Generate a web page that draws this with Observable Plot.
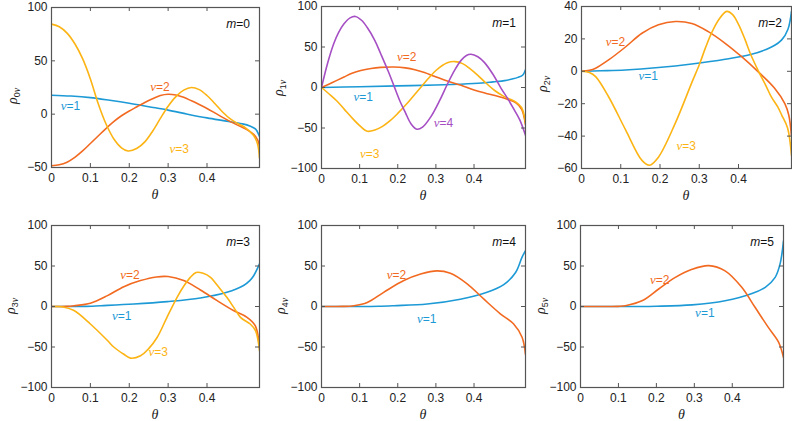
<!DOCTYPE html>
<html>
<head>
<meta charset="utf-8">
<script src="https://cdn.jsdelivr.net/npm/d3@7"></script>
<script src="https://cdn.jsdelivr.net/npm/@observablehq/plot@0.6"></script>
<style>
html,body{margin:0;padding:0;background:#fff;}
#chart{position:relative;width:792px;height:421px;overflow:hidden;background:#fff;}
#chart svg{position:absolute;left:0;top:0;background:transparent !important;overflow:visible;}
</style>
</head>
<body>
<div id="chart"></div>
<script>
// ---- data (θ, ρ) ----
const THETA_MAX = 0.535;
const xTicks = [0, 0.1, 0.2, 0.3, 0.4];

const m0_nu1 = [[0,17.8],[0.05,17],[0.1,15.5],[0.15,13],[0.2,10.2],[0.25,7],[0.3,3.8],[0.35,0],[0.4,-3.5],[0.45,-6.5],[0.49,-9],[0.51,-11],[0.525,-14],[0.535,-21]];
const m0_nu2 = [[0,-48.4],[0.02,-47.5],[0.04,-45],[0.06,-40.5],[0.08,-34.5],[0.1,-27.5],[0.12,-20.5],[0.14,-13.5],[0.16,-7],[0.18,-1.5],[0.2,3],[0.22,7],[0.24,11],[0.26,14.5],[0.28,17.5],[0.3,18.7],[0.32,18],[0.34,15.8],[0.36,12.5],[0.38,9],[0.4,5.3],[0.42,1.2],[0.44,-3],[0.46,-7],[0.48,-10.5],[0.5,-14],[0.52,-19],[0.53,-24],[0.535,-30]];
const m0_nu3 = [[0,84.4],[0.02,82],[0.04,76],[0.06,66],[0.08,52],[0.1,33],[0.12,10],[0.14,-9],[0.16,-23],[0.18,-31.5],[0.197,-34.5],[0.22,-32],[0.24,-26],[0.26,-16],[0.28,-4],[0.3,7.5],[0.32,16.5],[0.34,22.5],[0.36,25],[0.38,23],[0.4,17.5],[0.42,10],[0.44,2],[0.46,-4.5],[0.48,-9],[0.5,-13],[0.52,-20],[0.53,-28],[0.535,-41]];
const m0_labels = [[1,0.05,7.5],[2,0.28,25],[3,0.33,-33]];

const m1_nu1 = [[0,0],[0.1,1],[0.2,2],[0.3,3],[0.36,4],[0.42,5.5],[0.45,7],[0.48,8.5],[0.5,10.5],[0.515,12.5],[0.528,15.5],[0.535,22]];
const m1_nu2 = [[0,0],[0.03,6.5],[0.059,13],[0.08,17.5],[0.103,21],[0.13,23.5],[0.155,24.8],[0.19,25.3],[0.22,24.2],[0.245,22],[0.27,18.5],[0.296,13.8],[0.33,8],[0.366,2.7],[0.4,-3],[0.43,-7],[0.455,-10],[0.49,-15],[0.51,-19],[0.525,-27],[0.535,-46]];
const m1_nu3 = [[0,0],[0.02,-8],[0.041,-17],[0.06,-27],[0.085,-40],[0.1,-47],[0.12,-54],[0.14,-52.5],[0.16,-48],[0.18,-41],[0.2,-32],[0.22,-22],[0.24,-11],[0.26,0],[0.28,11],[0.3,21],[0.33,30.5],[0.35,32],[0.37,29.5],[0.39,23],[0.41,15],[0.43,6],[0.455,-4],[0.475,-10],[0.49,-13.5],[0.51,-18],[0.525,-25],[0.535,-44]];
const m1_nu4 = [[0,0],[0.016,30],[0.032,54],[0.045,68],[0.059,78.6],[0.075,86],[0.089,87.7],[0.105,83],[0.12,74],[0.14,58],[0.155,42],[0.175,20],[0.19,2],[0.205,-16],[0.22,-31],[0.235,-45],[0.25,-51.5],[0.265,-49],[0.287,-36],[0.31,-16],[0.33,4],[0.35,22],[0.366,33.5],[0.38,39.5],[0.392,41],[0.41,38],[0.427,31],[0.45,16],[0.471,-1],[0.49,-15],[0.506,-28],[0.52,-40],[0.535,-59]];
const m1_labels = [[2,0.225,37.6],[1,0.111,-11.7],[3,0.128,-82],[4,0.321,-43.7]];

const m2_nu1 = [[0,0],[0.05,0.3],[0.112,0.8],[0.196,2.3],[0.281,4.5],[0.366,7.4],[0.433,10.5],[0.484,15],[0.51,19.4],[0.526,26],[0.535,37]];
const m2_nu2 = [[0,0],[0.02,0.6],[0.036,1.9],[0.069,7],[0.112,15],[0.154,23.5],[0.196,28.7],[0.239,30.7],[0.281,29.5],[0.323,24.5],[0.366,17.3],[0.408,9],[0.451,-0.5],[0.492,-10.5],[0.518,-20],[0.528,-27],[0.535,-40]];
const m2_nu3 = [[0,0],[0.02,-0.8],[0.036,-3.3],[0.069,-15.7],[0.112,-36],[0.154,-55],[0.173,-58],[0.196,-53],[0.239,-32],[0.281,-7],[0.3,4],[0.315,14],[0.33,23],[0.35,32],[0.37,37],[0.385,35],[0.4,29],[0.416,20],[0.43,11],[0.451,0],[0.47,-9],[0.484,-16],[0.5,-22],[0.51,-27],[0.525,-35],[0.535,-52]];
const m2_labels = [[2,0.088,17.7],[1,0.171,-2.9],[3,0.268,-46]];

const m3_nu1 = [[0,0],[0.05,0],[0.084,0.1],[0.127,1],[0.212,3],[0.298,6],[0.383,10.5],[0.451,17.5],[0.494,26],[0.51,32],[0.52,38],[0.535,52.6]];
const m3_nu2 = [[0,0],[0.02,0],[0.04,0.2],[0.058,1],[0.1,4],[0.144,13.4],[0.186,24.5],[0.229,32],[0.27,36.5],[0.3,37],[0.34,32],[0.383,20.4],[0.426,7.2],[0.468,-5],[0.503,-13.4],[0.524,-23.7],[0.535,-50]];
const m3_nu3 = [[0,0],[0.015,0],[0.03,-0.6],[0.058,-5],[0.1,-21.6],[0.144,-42],[0.16,-50],[0.186,-59],[0.203,-63.7],[0.229,-60.8],[0.25,-52],[0.272,-38],[0.297,-13.4],[0.323,11.3],[0.34,25],[0.357,36],[0.372,42],[0.39,41],[0.409,36],[0.43,24],[0.451,11.3],[0.47,-2],[0.486,-13.4],[0.511,-21.6],[0.525,-30],[0.535,-54.6]];
const m3_labels = [[2,0.203,38],[1,0.182,-12.6],[3,0.276,-56.7]];

const m4_nu1 = [[0,0],[0.05,0],[0.1,0],[0.15,0.3],[0.19,1],[0.277,3],[0.364,9],[0.434,17.5],[0.478,27],[0.509,42],[0.526,61],[0.535,69]];
const m4_nu2 = [[0,0],[0.03,0],[0.055,0.1],[0.085,1],[0.12,5],[0.163,17.5],[0.216,32],[0.26,40],[0.303,44],[0.338,41],[0.382,28],[0.426,9],[0.469,-9],[0.504,-21.6],[0.526,-38],[0.535,-59]];
const m4_labels = [[2,0.198,39],[1,0.277,-15.5]];

const m5_nu1 = [[0,0],[0.05,0],[0.1,0],[0.15,0],[0.2,0.3],[0.294,2],[0.381,7],[0.452,16],[0.487,23.7],[0.513,36],[0.526,52.6],[0.535,81]];
const m5_nu2 = [[0,0],[0.04,0],[0.075,0],[0.1,0.2],[0.118,1],[0.162,7],[0.206,21.6],[0.25,36],[0.294,46],[0.338,50.5],[0.381,44],[0.425,23.7],[0.46,-1],[0.495,-25.8],[0.522,-44],[0.535,-63]];
const m5_labels = [[2,0.21,32],[1,0.329,-8.5]];

const yTicksA = [-50,0,50,100];
const yTicksB = [-100,-50,0,50,100];
const yTicksC = [-60,-40,-20,0,20,40];

// ---- layout / style ----
const W = 792, H = 421;
const COLORS = {1:"#1d9ad6", 2:"#f26a21", 3:"#fcb414", 4:"#a64fc4"};
const AXIS = "#555";
const FONT = "'Liberation Sans', Arial, Helvetica, sans-serif";
const SERIF = "'Liberation Serif', 'DejaVu Serif', serif";

const panels = [
  {m:0, frame:[51,259,7,167],  ylab:[13,96],  yDomain:[-50,100], yTicks:yTicksA, series:[[1,m0_nu1],[2,m0_nu2],[3,m0_nu3]], labels:m0_labels},
  {m:1, frame:[321,525,6,168], ylab:[279,88], yDomain:[-100,100], yTicks:yTicksB, series:[[1,m1_nu1],[2,m1_nu2],[3,m1_nu3],[4,m1_nu4]], labels:m1_labels},
  {m:2, frame:[581,791,6,168], ylab:[543,84], yDomain:[-60,40], yTicks:yTicksC, series:[[1,m2_nu1],[2,m2_nu2],[3,m2_nu3]], labels:m2_labels},
  {m:3, frame:[51,259,225,387], ylab:[11,306], yDomain:[-100,100], yTicks:yTicksB, series:[[1,m3_nu1],[2,m3_nu2],[3,m3_nu3]], labels:m3_labels},
  {m:4, frame:[321,525,225,387], ylab:[281,306], yDomain:[-100,100], yTicks:yTicksB, series:[[1,m4_nu1],[2,m4_nu2]], labels:m4_labels},
  {m:5, frame:[580,783,225,387], ylab:[541,306], yDomain:[-100,100], yTicks:yTicksB, series:[[1,m5_nu1],[2,m5_nu2]], labels:m5_labels}
];

const fmtY = d => d < 0 ? "\u2212" + Math.abs(d) : String(d);
const chart = document.getElementById("chart");

for (const p of panels) {
  const [fl, fr, ft, fb] = p.frame;
  const fw = fr - fl, fh = fb - ft;
  const marks = [
    ...p.series.map(([nu, data]) => Plot.line(data, {x: d => d[0], y: d => d[1], stroke: COLORS[nu], strokeWidth: 1.6, curve: "catmull-rom"})),
    Plot.tickX(xTicks, {x: d => d, insetTop: fh - 4, stroke: AXIS}),
    Plot.tickX(xTicks, {x: d => d, insetBottom: fh - 4, stroke: AXIS}),
    Plot.tickY(p.yTicks, {y: d => d, insetRight: fw - 4, stroke: AXIS}),
    Plot.tickY(p.yTicks, {y: d => d, insetLeft: fw - 4, stroke: AXIS}),
    Plot.frame({stroke: AXIS, strokeWidth: 1.2}),
    Plot.axisX(xTicks, {tickSize: 0, tickPadding: 6, label: null, tickFormat: d => String(d)}),
    Plot.axisY(p.yTicks, {tickSize: 0, tickPadding: 4, label: null, tickFormat: fmtY})
  ];
  const svg = Plot.plot({
    width: W, height: H,
    marginLeft: fl, marginRight: W - fr, marginTop: ft, marginBottom: H - fb,
    x: {domain: [0, THETA_MAX]},
    y: {domain: p.yDomain},
    clip: true,
    style: {fontFamily: FONT, fontSize: "12px", color: "#222", background: "transparent", overflow: "visible"},
    marks
  });
  chart.appendChild(svg);
  const sx = svg.scale("x"), sy = svg.scale("y");
  const g = d3.select(svg).append("g").attr("font-family", FONT).attr("font-size", 12);

  // series labels
  for (const [nu, t, r] of p.labels) {
    const txt = g.append("text")
      .attr("x", sx.apply(t)).attr("y", sy.apply(r))
      .attr("text-anchor", "middle").attr("dy", "0.35em")
      .attr("fill", COLORS[nu]);
    txt.append("tspan").attr("font-family", SERIF).attr("font-style", "italic").attr("font-size", 13).text("\u03bd");
    txt.append("tspan").text("=" + nu);
  }
  // m label
  const mt = g.append("text").attr("x", fr - 9).attr("y", ft + 17).attr("dy", "0.35em")
    .attr("text-anchor", "end").attr("fill", "#111");
  mt.append("tspan").attr("font-style", "italic").text("m");
  mt.append("tspan").text("=" + p.m);

  // y label  ρ_{mν}
  const yl = g.append("text")
    .attr("transform", `translate(${p.ylab[0]},${p.ylab[1]}) rotate(-90)`)
    .attr("text-anchor", "middle").attr("y", 4).attr("fill", "#222");
  yl.append("tspan").attr("font-family", SERIF).attr("font-style", "italic").attr("font-size", 14).text("\u03c1");
  yl.append("tspan").attr("font-size", 9).attr("dy", 3).text(String(p.m));
  yl.append("tspan").attr("font-family", SERIF).attr("font-style", "italic").attr("font-size", 10).text("\u03bd");

  // x label θ
  g.append("text").attr("x", (fl + fr) / 2).attr("y", fb + 27).attr("dy", "0.35em")
    .attr("text-anchor", "middle").attr("font-family", SERIF).attr("font-style", "italic")
    .attr("font-size", 14).attr("fill", "#222").text("\u03b8");
}
</script>
</body>
</html>
